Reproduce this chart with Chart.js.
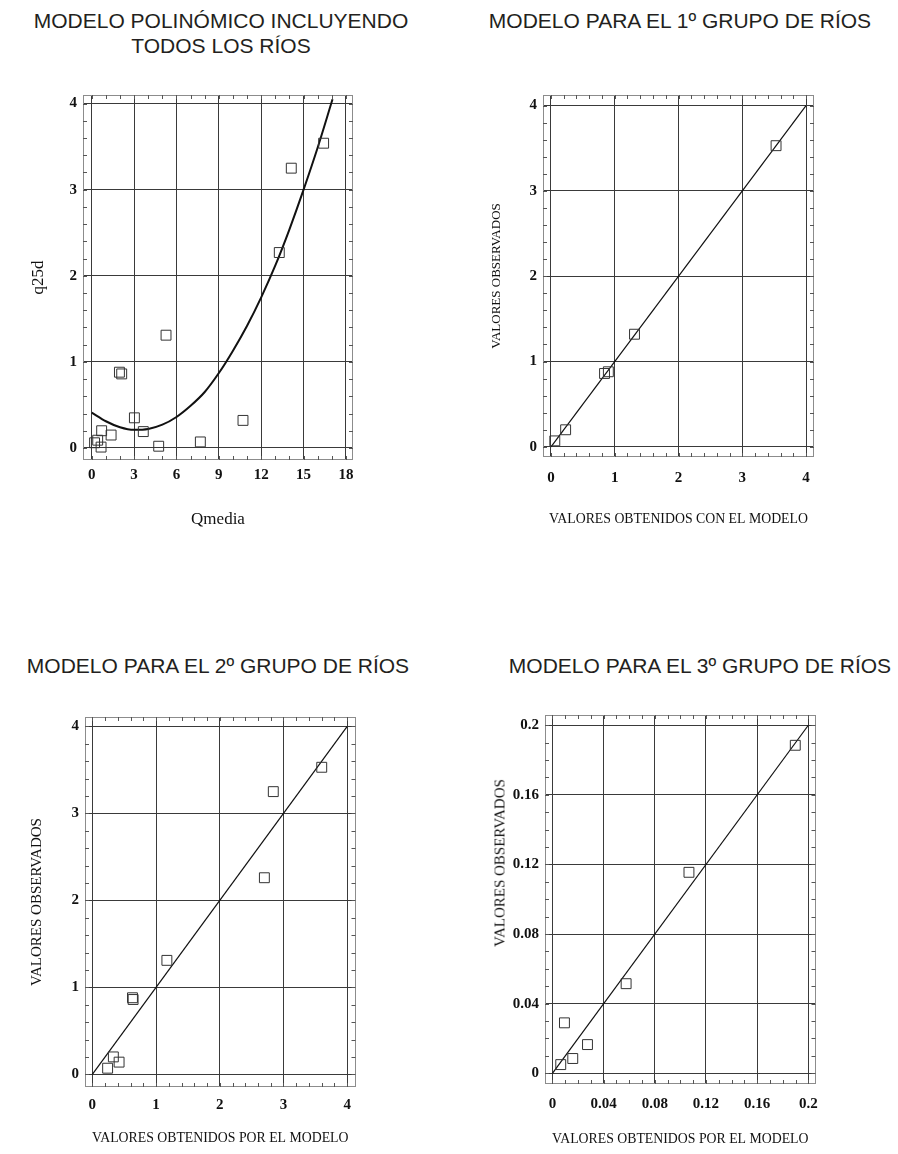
<!DOCTYPE html>
<html>
<head>
<meta charset="utf-8">
<script src="https://cdn.jsdelivr.net/npm/chart.js@4.4.1/dist/chart.umd.min.js"></script>
<style>
  body { margin: 0; background: #fff; width: 898px; height: 1154px; position: relative; overflow: hidden; }
  .ttl { position: absolute; font-family: "Liberation Sans", Arial, sans-serif; font-size: 21px; line-height: 25px; color: #231f20; text-align: center; white-space: nowrap; }
  .ytl { position: absolute; font-family: "Liberation Serif", "Times New Roman", serif; font-size: 15px; color: #111; white-space: nowrap; transform: translate(-50%, -50%) rotate(-90deg); }
  canvas { position: absolute; }
</style>
</head>
<body>
<div class="ttl" style="left:21px; width:400px; top:8px;">MODELO POLINÓMICO INCLUYENDO<br>TODOS LOS RÍOS</div>
<div class="ttl" style="left:480px; width:400px; top:8px;">MODELO PARA EL 1º GRUPO DE RÍOS</div>
<div class="ttl" style="left:18px; width:400px; top:653px;">MODELO PARA EL 2º GRUPO DE RÍOS</div>
<div class="ttl" style="left:500px; width:400px; top:653px;">MODELO PARA EL 3º GRUPO DE RÍOS</div>

<canvas id="c1" width="380" height="480" style="left:0; top:80px;"></canvas>
<canvas id="c2" width="440" height="480" style="left:450px; top:80px;"></canvas>
<canvas id="c3" width="380" height="454" style="left:0; top:700px;"></canvas>
<canvas id="c4" width="440" height="454" style="left:450px; top:700px;"></canvas>
<!-- the 3rd group's y title sits higher than the plot centre in the original -->
<div class="ytl" style="left:500px; top:863px;">VALORES OBSERVADOS</div>

<script>
// --- panel 1: polynomial model, all rivers (Qmedia vs q25d)
var qmedia = [0.2, 0.42, 0.66, 0.7, 1.37, 1.96, 2.12, 3.02, 3.65, 4.74, 5.26, 7.69, 10.71, 13.28, 14.13, 16.42];
var q25d = [0.06, 0.09, 0.01, 0.2, 0.15, 0.88, 0.86, 0.35, 0.19, 0.02, 1.31, 0.07, 0.32, 2.27, 3.25, 3.54];
// fitted curve
var curveX = [0, 1, 2, 3, 4, 5, 6, 7, 8, 9, 10, 11, 12, 13, 14, 15, 16, 17.05];
var curveY = [0.41, 0.31, 0.24, 0.21, 0.22, 0.27, 0.36, 0.49, 0.65, 0.87, 1.13, 1.42, 1.75, 2.12, 2.54, 3.0, 3.49, 4.05];
var xTicks1 = [0, 3, 6, 9, 12, 15, 18];
var yTicks1 = [0, 1, 2, 3, 4];

// --- panel 2: group 1 (model vs observed)
var g1Model = [0.06, 0.23, 0.84, 0.9, 1.31, 3.53];
var g1Obs = [0.07, 0.2, 0.86, 0.88, 1.32, 3.53];

// --- panel 3: group 2
var g2Model = [0.24, 0.33, 0.42, 0.63, 0.64, 1.17, 2.70, 2.84, 3.60];
var g2Obs = [0.07, 0.2, 0.14, 0.88, 0.86, 1.31, 2.26, 3.25, 3.53];

// --- panel 4: group 3
var g3Model = [0.0065, 0.0094, 0.0159, 0.0274, 0.0576, 0.1067, 0.1898];
var g3Obs = [0.005, 0.029, 0.0085, 0.0165, 0.0515, 0.1155, 0.1885];

var unitTicks = [0, 1, 2, 3, 4];
var unitLine = [0, 4];
var smallTicks = [0, 0.04, 0.08, 0.12, 0.16, 0.2];
var smallLine = [0, 0.2];

var SERIF = '"Liberation Serif", "Times New Roman", serif';

function toPoints(xs, ys) {
  return xs.map(function (v, i) { return { x: v, y: ys[i] }; });
}

// frame around the plot area plus the small inner ticks
var framePlugin = {
  id: 'frame',
  afterDraw: function (chart, args, opts) {
    var ctx = chart.ctx, a = chart.chartArea;
    var sx = chart.scales.x, sy = chart.scales.y;
    ctx.save();
    ctx.strokeStyle = '#8c8c8c';
    ctx.lineWidth = 1;
    ctx.strokeRect(Math.round(a.left) + 0.5, Math.round(a.top) + 0.5, Math.round(a.width) - 1, Math.round(a.height) - 1);
    ctx.strokeStyle = '#555';
    ctx.beginPath();
    var v, p;
    for (v = Math.ceil(sx.min / opts.xStep) * opts.xStep; v <= sx.max; v += opts.xStep) {
      p = Math.round(sx.getPixelForValue(v)) + 0.5;
      ctx.moveTo(p, a.bottom); ctx.lineTo(p, a.bottom - 4);
      ctx.moveTo(p, a.top); ctx.lineTo(p, a.top + 4);
    }
    for (v = Math.ceil(sy.min / opts.yStep) * opts.yStep; v <= sy.max; v += opts.yStep) {
      p = Math.round(sy.getPixelForValue(v)) + 0.5;
      ctx.moveTo(a.left, p); ctx.lineTo(a.left + 4, p);
      ctx.moveTo(a.right, p); ctx.lineTo(a.right - 4, p);
    }
    ctx.stroke();
    ctx.restore();
  }
};

function makePanel(c) {
  var datasets = [
    {
      data: toPoints(c.px, c.py),
      pointStyle: 'rect',
      pointRadius: 7,
      pointBorderWidth: 1,
      pointBorderColor: '#333',
      pointBackgroundColor: 'rgba(0,0,0,0)',
      showLine: false
    },
    {
      data: toPoints(c.lx, c.ly),
      showLine: true,
      pointRadius: 0,
      borderColor: '#111',
      borderWidth: c.lineWidth,
      cubicInterpolationMode: c.smooth ? 'monotone' : 'default',
      tension: 0,
      fill: false
    }
  ];

  new Chart(document.getElementById(c.id), {
    type: 'scatter',
    data: { datasets: datasets },
    plugins: [framePlugin],
    options: {
      responsive: false,
      animation: false,
      layout: { padding: c.pad },
      plugins: {
        legend: { display: false },
        tooltip: { enabled: false },
        frame: { xStep: c.xStep, yStep: c.yStep }
      },
      scales: {
        x: {
          type: 'linear',
          min: c.xMin,
          max: c.xMax,
          afterBuildTicks: function (s) { s.ticks = c.xTicks.map(function (v) { return { value: v }; }); },
          afterFit: function (s) { s.height = c.xAxisH; },
          grid: { color: '#3a3a3a', lineWidth: 1, drawTicks: false },
          border: { display: false },
          ticks: {
            padding: c.xTickPad,
            color: '#111',
            font: { family: SERIF, size: 15, weight: 'bold' },
            maxRotation: 0,
            callback: function (v) { return String(v); }
          },
          title: {
            display: true,
            text: c.xTitle,
            color: '#111',
            font: { family: SERIF, size: c.xTitleSize },
            padding: { top: 0, bottom: c.xTitlePad }
          }
        },
        y: {
          type: 'linear',
          min: c.yMin,
          max: c.yMax,
          afterBuildTicks: function (s) { s.ticks = c.yTicks.map(function (v) { return { value: v }; }); },
          afterFit: function (s) { s.width = c.yAxisW; },
          grid: { color: '#3a3a3a', lineWidth: 1, drawTicks: false },
          border: { display: false },
          ticks: {
            padding: 6,
            color: '#111',
            font: { family: SERIF, size: 15, weight: 'bold' },
            callback: function (v) { return String(v); }
          },
          title: {
            display: c.yTitle !== '',
            text: c.yTitle,
            color: '#111',
            font: { family: SERIF, size: c.yTitleSize },
            padding: { top: c.yTitlePad, bottom: 0 }
          }
        }
      }
    }
  });
}

makePanel({
  id: 'c1', px: qmedia, py: q25d, lx: curveX, ly: curveY, lineWidth: 2, smooth: true,
  xTicks: xTicks1, yTicks: yTicks1, xMin: -0.62, xMax: 18.5, yMin: -0.14, yMax: 4.1,
  xStep: 1, yStep: 0.2,
  pad: { left: 0, top: 13, right: 27, bottom: 0 }, yAxisW: 83, xAxisH: 100, xTickPad: 6,
  xTitle: 'Qmedia', yTitle: 'q25d', xTitleSize: 17, yTitleSize: 17, xTitlePad: 30, yTitlePad: 28
});

makePanel({
  id: 'c2', px: g1Model, py: g1Obs, lx: unitLine, ly: unitLine, lineWidth: 1.2, smooth: false,
  xTicks: unitTicks, yTicks: unitTicks, xMin: -0.125, xMax: 4.125, yMin: -0.119, yMax: 4.124,
  xStep: 0.2, yStep: 0.2,
  pad: { left: 0, top: 10, right: 76, bottom: 0 }, yAxisW: 93, xAxisH: 103, xTickPad: 12,
  xTitle: 'VALORES OBTENIDOS CON EL MODELO', yTitle: 'VALORES OBSERVADOS',
  xTitleSize: 13.8, yTitleSize: 13, xTitlePad: 32, yTitlePad: 39
});

makePanel({
  id: 'c3', px: g2Model, py: g2Obs, lx: unitLine, ly: unitLine, lineWidth: 1.2, smooth: false,
  xTicks: unitTicks, yTicks: unitTicks, xMin: -0.115, xMax: 4.13, yMin: -0.146, yMax: 4.108,
  xStep: 0.2, yStep: 0.2,
  pad: { left: 0, top: 17, right: 24.5, bottom: 0 }, yAxisW: 85, xAxisH: 67, xTickPad: 9,
  xTitle: 'VALORES OBTENIDOS POR EL MODELO', yTitle: 'VALORES OBSERVADOS',
  xTitleSize: 13.8, yTitleSize: 15, xTitlePad: 7, yTitlePad: 28
});

makePanel({
  id: 'c4', px: g3Model, py: g3Obs, lx: smallLine, ly: smallLine, lineWidth: 1.2, smooth: false,
  xTicks: smallTicks, yTicks: smallTicks, xMin: -0.0058, xMax: 0.2056, yMin: -0.00615, yMax: 0.2059,
  xStep: 0.01, yStep: 0.01,
  pad: { left: 0, top: 15, right: 74.5, bottom: 0 }, yAxisW: 95, xAxisH: 70, xTickPad: 11,
  xTitle: 'VALORES OBTENIDOS POR EL MODELO', yTitle: '',
  xTitleSize: 13.8, yTitleSize: 15, xTitlePad: 6, yTitlePad: 42
});
</script>
</body>
</html>
